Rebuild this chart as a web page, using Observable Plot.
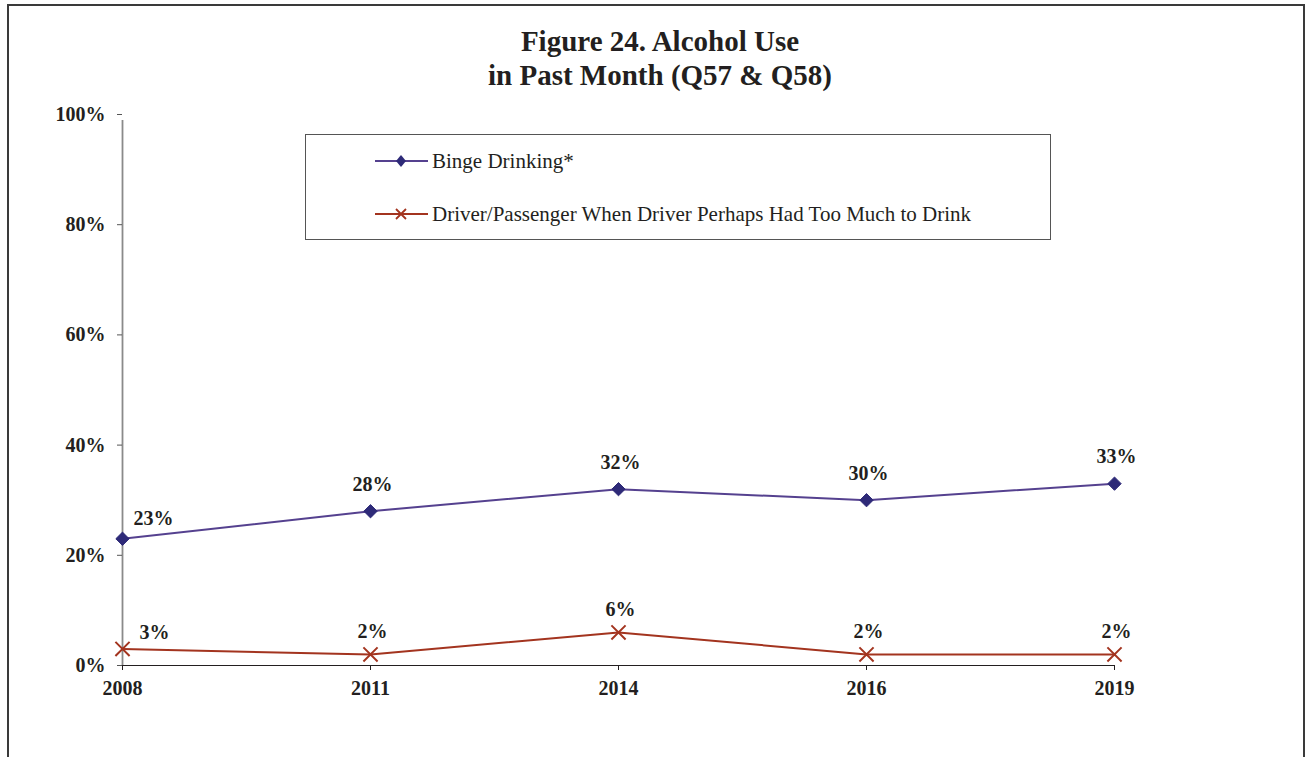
<!DOCTYPE html>
<html>
<head>
<meta charset="utf-8">
<script src="https://cdn.jsdelivr.net/npm/d3@7"></script>
<script src="https://cdn.jsdelivr.net/npm/@observablehq/plot@0.6"></script>
<style>
  html, body { margin: 0; padding: 0; background: #fff; }
  body { width: 1307px; height: 757px; position: relative; overflow: hidden; font-family: "Liberation Serif", "Times New Roman", serif; }
  #frame { position: absolute; left: 7px; top: 4px; width: 1298px; height: 800px; border: 2px solid #3a3a3a; box-sizing: border-box; }
  #title { position: absolute; left: 0; top: 24px; width: 1320px; text-align: center; font-weight: bold; font-size: 29px; line-height: 34px; color: #231f20; }
  #chart { position: absolute; left: 0; top: 0; }
  #legend { position: absolute; left: 305px; top: 134px; width: 746px; height: 106px; border: 1px solid #555; box-sizing: border-box; background: #fff; }
  .item { position: absolute; left: 69px; display: flex; align-items: center; font-size: 21px; color: #231f20; height: 24px; }
  .item svg { margin-right: 4px; }
</style>
</head>
<body>
<div id="frame"></div>
<div id="chart"></div>
<div id="title">Figure 24. Alcohol Use<br>in Past Month (Q57 &amp; Q58)</div>
<div id="legend"></div>
<script>
const years = ["2008", "2011", "2014", "2016", "2019"];
const binge = [23, 28, 32, 30, 33];
const driver = [3, 2, 6, 2, 2];
const seriesNames = ["Binge Drinking*", "Driver/Passenger When Driver Perhaps Had Too Much to Drink"];
const yTicks = [0, 20, 40, 60, 80, 100];

const purpleLine = "#55418f";
const purpleMark = "#2e2a78";
const redLine = "#a3341f";

const bingeData = years.map((y, i) => ({year: y, value: binge[i], series: seriesNames[0]}));
const driverData = years.map((y, i) => ({year: y, value: driver[i], series: seriesNames[1]}));

const labelFont = {fontSize: 20, fontWeight: "bold", fontFamily: "Liberation Serif, Times New Roman, serif", fill: "#231f20"};

const chart = Plot.plot({
  width: 1307,
  height: 757,
  marginLeft: 122,
  marginRight: 193,
  marginTop: 114,
  marginBottom: 92,
  style: {fontFamily: "Liberation Serif, Times New Roman, serif", background: "transparent", overflow: "visible"},
  x: {type: "point", domain: years, padding: 0, label: null},
  y: {domain: [0, 100], label: null},
  marks: [
    Plot.ruleX([years[0]], {stroke: "#8a8a8a", strokeWidth: 1.8, y1: 0, y2: 100, insetBottom: -6}),
    Plot.ruleY([0], {stroke: "#231f20", strokeWidth: 1.2}),
    Plot.axisY({ticks: yTicks, tickFormat: d => d + "%", tickSize: 5, tickPadding: 12, fontSize: 20, fontWeight: "bold", stroke: "#555", fill: "#231f20", label: null}),
    Plot.axisX({tickSize: 5, tickPadding: 10, fontSize: 20, fontWeight: "bold", stroke: "#231f20", fill: "#231f20", label: null}),
    Plot.line(bingeData, {x: "year", y: "value", stroke: purpleLine, strokeWidth: 2}),
    Plot.dot(bingeData, {x: "year", y: "value", symbol: "diamond2", r: 6, fill: purpleMark, stroke: purpleMark, strokeWidth: 1}),
    Plot.line(driverData, {x: "year", y: "value", stroke: redLine, strokeWidth: 2}),
    Plot.dot(driverData, {x: "year", y: "value", symbol: "times", r: 6.5, stroke: redLine, strokeWidth: 2}),
    Plot.text(bingeData.slice(0, 1), {x: "year", y: "value", text: d => d.value + "%", dx: 31, dy: -20, ...labelFont}),
    Plot.text(bingeData.slice(1), {x: "year", y: "value", text: d => d.value + "%", dx: 2, dy: -27, ...labelFont}),
    Plot.text(driverData.slice(0, 1), {x: "year", y: "value", text: d => d.value + "%", dx: 32, dy: -16, ...labelFont}),
    Plot.text(driverData.slice(1), {x: "year", y: "value", text: d => d.value + "%", dx: 2, dy: -23, ...labelFont})
  ]
});
document.getElementById("chart").appendChild(chart);

// legend
const legend = document.getElementById("legend");
const swatches = [
  {name: seriesNames[0], color: purpleLine, mark: purpleMark, type: "diamond", top: 14},
  {name: seriesNames[1], color: redLine, mark: redLine, type: "times", top: 67}
];
swatches.forEach(s => {
  const div = document.createElement("div");
  div.className = "item";
  div.style.top = s.top + "px";
  const sym = s.type === "diamond"
    ? `<path d="M26 6 L31 12 L26 18 L21 12 Z" fill="${s.mark}"/>`
    : `<path d="M21 7 L31 17 M31 7 L21 17" stroke="${s.mark}" stroke-width="1.8"/>`;
  div.innerHTML = `<svg width="53" height="24"><line x1="0" y1="12" x2="53" y2="12" stroke="${s.color}" stroke-width="2"/>${sym}</svg><span>${s.name}</span>`;
  legend.appendChild(div);
});
</script>
</body>
</html>
